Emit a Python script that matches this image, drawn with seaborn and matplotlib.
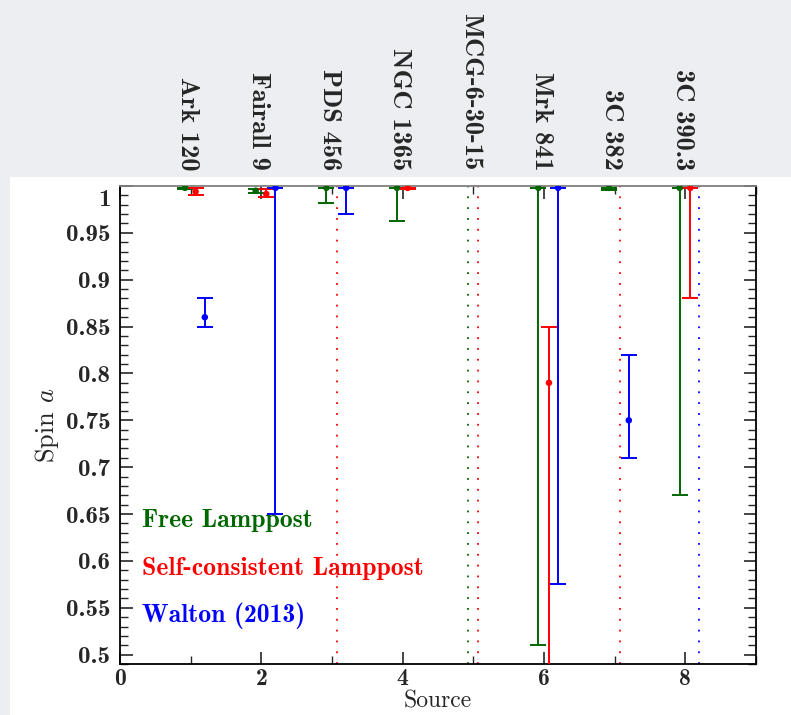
import numpy as np
import pandas as pd
import matplotlib
matplotlib.use('Agg')
import matplotlib.pyplot as plt
import matplotlib.transforms as mtransforms
from matplotlib.ticker import MultipleLocator, FormatStrFormatter
from matplotlib.patches import Rectangle
import seaborn as sns

sources = ['Ark 120', 'Fairall 9', 'PDS 456', 'NGC 1365', 'MCG-6-30-15',
           'Mrk 841', '3C 382', '3C 390.3']
source_pos = [1, 2, 3, 4, 5, 6, 7, 8]

# best fit spin and the lower / upper end of its error bar (nan = no fit)
free_spin = [0.998, 0.995, 0.998, 0.998, np.nan, 0.998, 0.998, 0.998]
free_lo = [0.997, 0.993, 0.982, 0.963, np.nan, 0.510, 0.996, 0.670]
free_hi = [0.998, 0.997, 0.998, 0.998, np.nan, 0.998, 0.998, 0.998]

selfc_spin = [0.994, 0.9915, np.nan, 0.998, np.nan, 0.79, np.nan, 0.998]
selfc_lo = [0.990, 0.988, np.nan, 0.997, np.nan, 0.30, np.nan, 0.880]
selfc_hi = [0.9975, 0.997, np.nan, 0.998, np.nan, 0.85, np.nan, 0.998]

walton_spin = [0.86, 0.998, 0.998, np.nan, np.nan, 0.998, 0.75, np.nan]
walton_lo = [0.85, 0.650, 0.970, np.nan, np.nan, 0.575, 0.71, np.nan]
walton_hi = [0.88, 0.998, 0.998, np.nan, np.nan, 0.998, 0.82, np.nan]

# sources where the spin is unconstrained (dotted lines)
free_open = [5]
selfc_open = [3, 5, 7]
walton_open = [8]

models = ['Free Lamppost', 'Self-consistent Lamppost', 'Walton (2013)']
colors = {'Free Lamppost': '#006600', 'Self-consistent Lamppost': '#ff0000',
          'Walton (2013)': '#0000ff'}
offsets = {'Free Lamppost': -0.08, 'Self-consistent Lamppost': 0.07,
           'Walton (2013)': 0.2}

rows = []
for m, spin, lo, hi in [(models[0], free_spin, free_lo, free_hi),
                        (models[1], selfc_spin, selfc_lo, selfc_hi),
                        (models[2], walton_spin, walton_lo, walton_hi)]:
    for p, s, l, h in zip(source_pos, spin, lo, hi):
        rows.append({'model': m, 'source': p + offsets[m], 'spin': s, 'lo': l, 'hi': h})
df = pd.DataFrame(rows).dropna()

sns.set_style('ticks')
plt.rcParams['font.family'] = ['cmb10', 'DejaVu Serif']
plt.rcParams['mathtext.fontset'] = 'cm'
plt.rcParams['axes.unicode_minus'] = False

fig = plt.figure(figsize=(7.91, 7.15), dpi=100, facecolor='#eceef2')
fig.patches.append(Rectangle((10 / 791, 0), 1, (715 - 177) / 715, transform=fig.transFigure,
                             facecolor='white', edgecolor='none', zorder=-1))
ax = fig.add_axes([120 / 791, 51 / 715, 636 / 791, 478 / 715])

for m in models:
    d = df[df.model == m]
    ax.errorbar(d.source, d.spin, yerr=[d.spin - d.lo, d.hi - d.spin], fmt='none',
                ecolor=colors[m], elinewidth=1.4, capsize=5.8, capthick=1.4, zorder=3)
sns.scatterplot(data=df, x='source', y='spin', hue='model', palette=colors,
                s=22, edgecolor='none', legend=False, ax=ax, zorder=4)

for m, opened in zip(models, [free_open, selfc_open, walton_open]):
    for p in opened:
        ax.axvline(p + offsets[m], color=colors[m], lw=1.3, linestyle=(0, (1, 5)), zorder=2)

ax.set_xlim(0, 9)
ax.set_ylim(0.49, 1.0)
ax.xaxis.set_major_locator(MultipleLocator(2))
ax.xaxis.set_minor_locator(MultipleLocator(1))
ax.yaxis.set_major_locator(MultipleLocator(0.05))
ax.yaxis.set_minor_locator(MultipleLocator(0.01))
ax.yaxis.set_major_formatter(FormatStrFormatter('%g'))
ax.tick_params(which='both', direction='in', top=True, right=True, labelsize=18)
ax.tick_params(which='major', length=9, width=1.2, pad=7)
ax.tick_params(which='minor', length=6, width=1.0)
ax.tick_params(axis='x', which='major', pad=3, labelsize=17)
for side in ['left', 'bottom', 'right']:
    ax.spines[side].set_linewidth(1.3)
    ax.spines[side].set_color('black')
ax.spines['top'].set_color('#808080')
ax.spines['top'].set_linewidth(1.3)

fig.canvas.draw()
for lab in ax.get_yticklabels():
    if lab.get_text() == '1':
        lab.set_transform(lab.get_transform() + mtransforms.ScaledTranslation(0, -8 / 72, fig.dpi_scale_trans))

ax.set_xlabel('Source', family=['cmr10', 'DejaVu Serif'], fontsize=17, labelpad=0)
ax.set_ylabel(r'Spin $a$', family=['cmr10', 'DejaVu Serif'], fontsize=19, labelpad=3)

trans = mtransforms.blended_transform_factory(ax.transData, ax.transAxes)
for p, name in zip(source_pos, sources):
    ax.text(p - 0.04, 1.033, name, transform=trans, rotation=270, ha='center', va='bottom',
            fontsize=19)

for i, m in enumerate(models):
    ax.text(0.034, 0.300 - i * 0.1, m, transform=ax.transAxes, color=colors[m],
            fontsize=18.5, va='center', ha='left')

fig.savefig('out.png', dpi=100, facecolor=fig.get_facecolor())
